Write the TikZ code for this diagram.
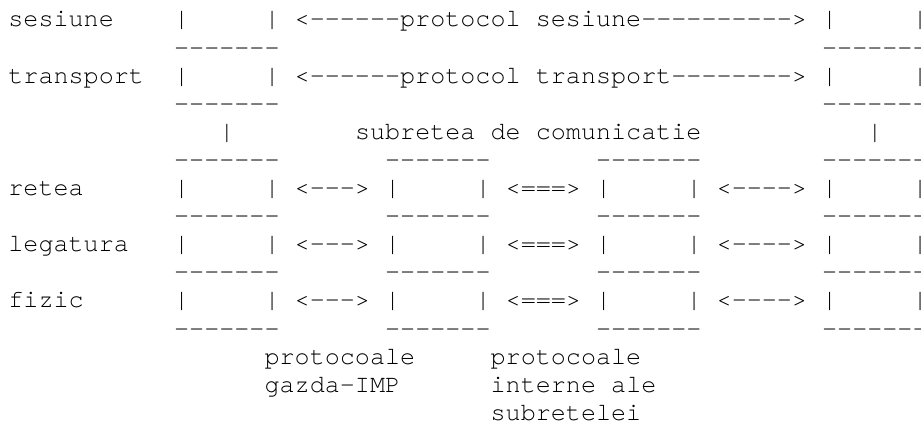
\documentclass[tikz,border=0pt]{standalone}
\usepackage{fontspec}
\setmonofont[Ligatures=NoCommon]{texgyrecursor-regular.otf}
\tikzset{
  txt/.style={anchor=base west, inner sep=0pt, outer sep=0pt, text=black,
    font=\ttfamily\fontsize{25.1pt}{28.1pt}\selectfont},
}
% place text at a column / row of the character grid
\newcommand\gridtxt[4]{\node[txt] (#1) at ({8.4+15.07*#2},{27+28.1*#3}) {#4};}
\newcommand\dashrow[2]{%
  \gridtxt{d#1a}{11}{#2}{-------}
  \gridtxt{d#1b}{25}{#2}{-------}
  \gridtxt{d#1c}{39}{#2}{-------}
  \gridtxt{d#1d}{54}{#2}{-------}}
\newcommand\layerrow[3]{%
  \gridtxt{l#1}{0}{#2}{#3}
  \gridtxt{b#1a}{11}{#2}{|}\gridtxt{b#1b}{17}{#2}{|}
  \gridtxt{a#1a}{19}{#2}{<--->}
  \gridtxt{b#1c}{25}{#2}{|}\gridtxt{b#1d}{31}{#2}{|}
  \gridtxt{a#1b}{33}{#2}{<===>}
  \gridtxt{b#1e}{39}{#2}{|}\gridtxt{b#1f}{45}{#2}{|}
  \gridtxt{a#1c}{47}{#2}{<---->}
  \gridtxt{b#1g}{54}{#2}{|}\gridtxt{b#1h}{60}{#2}{|}}
\begin{document}
\begin{tikzpicture}[x=1pt,y=-1pt]
\useasboundingbox (0,0) rectangle (921,430);
\fill[white] (0,0) rectangle (921,430);
\begin{scope}
\clip (0,0) rectangle (921,430);
% sesiune
\gridtxt{ses}{0}{0}{sesiune}
\gridtxt{s1}{11}{0}{|}\gridtxt{s2}{17}{0}{|}
\gridtxt{sp}{19}{0}{<------protocol}
\gridtxt{sq}{35}{0}{sesiune---------->}
\gridtxt{s3}{54}{0}{|}\gridtxt{s4}{60}{0}{|}
\gridtxt{d0a}{11}{1}{-------}\gridtxt{d0b}{54}{1}{-------}
% transport
\gridtxt{tra}{0}{2}{transport}
\gridtxt{t1}{11}{2}{|}\gridtxt{t2}{17}{2}{|}
\gridtxt{tp}{19}{2}{<------protocol}
\gridtxt{tq}{35}{2}{transport-------->}
\gridtxt{t3}{54}{2}{|}\gridtxt{t4}{60}{2}{|}
\gridtxt{d1a}{11}{3}{-------}\gridtxt{d1b}{54}{3}{-------}
% subnet line
\gridtxt{v1}{14}{4}{|}
\gridtxt{sub1}{23}{4}{subretea}
\gridtxt{sub2}{32}{4}{de}
\gridtxt{sub3}{35}{4}{comunicatie}
\gridtxt{v2}{57}{4}{|}
\dashrow{2}{5}
\layerrow{r}{6}{retea}
\dashrow{3}{7}
\layerrow{g}{8}{legatura}
\dashrow{4}{9}
\layerrow{f}{10}{fizic}
\dashrow{5}{11}
% captions
\gridtxt{c1}{17}{12}{protocoale}
\gridtxt{c2}{17}{13}{gazda-IMP}
\gridtxt{c3}{32}{12}{protocoale}
\gridtxt{c4}{32}{13}{interne}
\gridtxt{c5}{40}{13}{ale}
\gridtxt{c6}{32}{14}{subretelei}
\end{scope}
\end{tikzpicture}
\end{document}
